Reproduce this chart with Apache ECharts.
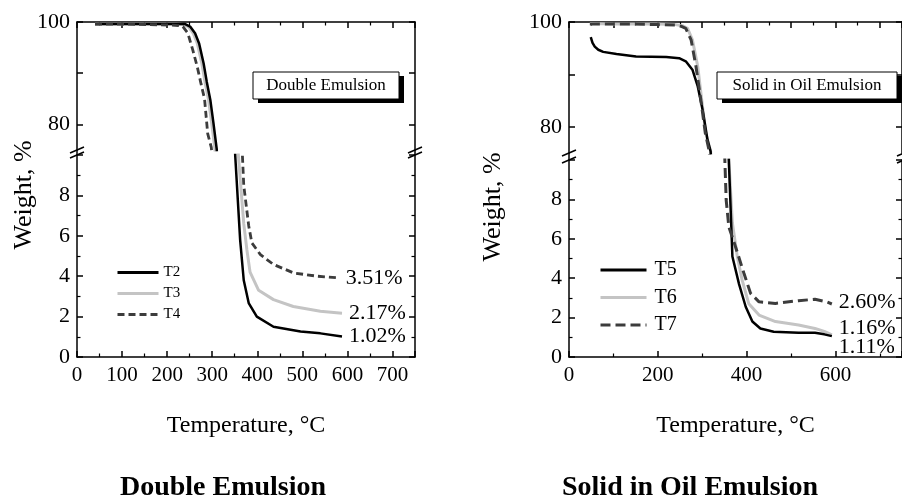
<!DOCTYPE html>
<html>
<head>
<meta charset="utf-8">
<script src="https://cdn.jsdelivr.net/npm/echarts@6/dist/echarts.min.js"></script>
<style>
  html, body { margin: 0; padding: 0; background: #fff; }
  #main { width: 902px; height: 499px; }
</style>
</head>
<body>
<div id="main"></div>
<script>
// ---- TGA curves: temperature (°C) and residual weight (%) ----
// Double emulsion samples
const t2Temp   = [40, 100, 160, 220, 240, 251, 262, 271, 281, 288, 296, 303, 310, 351, 362, 370, 381, 399, 436, 496, 540, 588];
const t2Weight = [99.6, 99.6, 99.6, 99.6, 99.6, 99.1, 97.8, 95.8, 91.9, 88.3, 84.7, 80.1, 75.2, 10.0, 5.8, 3.8, 2.67, 2.0, 1.5, 1.26, 1.17, 1.02];

const t3Temp   = [40, 100, 160, 220, 236, 247, 258, 267, 277, 284, 292, 299, 306, 358, 370, 377, 384, 403, 436, 480, 540, 588];
const t3Weight = [99.6, 99.6, 99.6, 99.6, 99.5, 99.1, 97.8, 95.8, 91.9, 88.3, 84.7, 80.1, 75.2, 10.0, 6.6, 5.3, 4.2, 3.3, 2.84, 2.5, 2.26, 2.17];

const t4Temp   = [40, 100, 160, 210, 225, 235, 246, 257, 267, 275, 283, 290, 298, 367, 370, 381, 388, 407, 436, 481, 533, 581];
const t4Weight = [99.6, 99.6, 99.5, 99.4, 99.3, 99.1, 97.8, 94.5, 91.2, 88.0, 85.0, 78.2, 75.5, 10.0, 8.5, 6.5, 5.65, 5.07, 4.58, 4.16, 4.0, 3.92];

// Solid in oil emulsion samples
const t5Temp   = [49, 53, 58, 66, 77, 107, 151, 219, 248, 263, 278, 290, 301, 312, 319, 360, 368, 383, 398, 413, 431, 461, 517, 554, 575, 592];
const t5Weight = [97.1, 96.0, 95.3, 94.7, 94.3, 93.9, 93.4, 93.3, 93.1, 92.5, 90.9, 87.7, 83.2, 77.5, 75.3, 10.0, 5.1, 3.7, 2.55, 1.8, 1.45, 1.28, 1.23, 1.23, 1.15, 1.06];

const t6Temp   = [47, 100, 150, 200, 240, 255, 267, 278, 290, 299, 308, 319, 360, 368, 379, 390, 405, 428, 465, 517, 554, 575, 592];
const t6Weight = [99.7, 99.6, 99.6, 99.6, 99.5, 99.3, 98.8, 96.6, 91.5, 85.1, 78.8, 75.3, 10.0, 6.8, 5.1, 3.9, 2.7, 2.13, 1.8, 1.62, 1.45, 1.3, 1.12];

const t7Temp   = [47, 100, 150, 200, 240, 252, 263, 275, 286, 297, 307, 316, 351, 354, 360, 375, 394, 409, 428, 465, 517, 554, 580, 592];
const t7Weight = [99.6, 99.6, 99.6, 99.5, 99.4, 99.2, 98.8, 96.6, 91.5, 85.1, 78.8, 75.3, 10.0, 7.97, 6.6, 5.6, 4.25, 3.23, 2.8, 2.72, 2.86, 2.93, 2.8, 2.69];

// Final residue annotations
const residueDouble = { T2: '1.02%', T3: '2.17%', T4: '3.51%' };
const residueSolid  = { T5: '1.11%', T6: '1.16%', T7: '2.60%' };

// Axis ranges and tick labels
const tempRange = [0, 750];
const upperWeightRange = [75, 100];
const lowerWeightRange = [0, 10];
const upperWeightLabels = [80, 100];
const upperWeightTicks = [80, 90, 100];

const panelTitles = ['Double Emulsion', 'Solid in Oil Emulsion'];
const boxLabels = ['Double Emulsion', 'Solid in Oil Emulsion'];

// ---- layout ----
const FONT = '"Liberation Serif", "Times New Roman", serif';
const grids = [
  { left: 77,  top: 22,  width: 338, height: 128 },  // upper, double emulsion
  { left: 77,  top: 155, width: 338, height: 202 },  // lower, double emulsion
  { left: 569, top: 22,  width: 335, height: 131 },  // upper, solid in oil
  { left: 569, top: 160, width: 335, height: 197 }   // lower, solid in oil
];

const axisLine = { show: true, onZero: false, lineStyle: { color: '#000', width: 1.5 } };
const tick = { show: true, inside: true, length: 6, lineStyle: { color: '#000', width: 1.5 } };
const minor = { show: true, splitNumber: 2, length: 3.5, lineStyle: { color: '#000', width: 1.2 } };

function xAxisFor(gridIndex, isUpper, interval) {
  return {
    type: 'value', gridIndex,
    min: tempRange[0], max: tempRange[1], interval,
    position: isUpper ? 'top' : 'bottom',
    axisLine, axisTick: tick, minorTick: minor,
    splitLine: { show: false },
    axisLabel: isUpper ? { show: false } : {
      show: true, color: '#000', fontFamily: FONT, fontSize: 21, margin: 8, showMaxLabel: false
    },
    name: isUpper ? '' : 'Temperature, °C',
    nameLocation: 'middle', nameGap: 57,
    nameTextStyle: { color: '#000', fontFamily: FONT, fontSize: 24 }
  };
}

function yAxesFor(gridIndex, isUpper) {
  const base = isUpper ? {
    min: upperWeightRange[0], max: upperWeightRange[1],
    axisTick: { ...tick, customValues: upperWeightTicks },
    minorTick: { show: false }
  } : {
    min: lowerWeightRange[0], max: lowerWeightRange[1], interval: 2,
    axisTick: tick, minorTick: minor
  };
  const labelOpt = {
    show: true, color: '#000', fontFamily: FONT, fontSize: 22, margin: 7,
    showMaxLabel: isUpper
  };
  if (isUpper) labelOpt.customValues = upperWeightLabels;
  const left = {
    type: 'value', gridIndex, position: 'left', ...base, axisLine,
    splitLine: { show: false }, axisLabel: labelOpt
  };
  const right = {
    type: 'value', gridIndex, position: 'right', ...base, axisLine,
    splitLine: { show: false }, axisLabel: { show: false }
  };
  return [left, right];
}

const xAxes = [
  xAxisFor(0, true, 100), xAxisFor(1, false, 100),
  xAxisFor(2, true, 100), xAxisFor(3, false, 200)
];
const yAxes = [].concat(yAxesFor(0, true), yAxesFor(1, false), yAxesFor(2, true), yAxesFor(3, false));

const styles = {
  T2: { color: '#000', width: 2.5, type: 'solid' },
  T3: { color: '#c4c4c4', width: 3, type: 'solid' },
  T4: { color: '#3c3c3c', width: 2.8, type: [7, 4] },
  T5: { color: '#000', width: 2.5, type: 'solid' },
  T6: { color: '#c4c4c4', width: 3, type: 'solid' },
  T7: { color: '#3c3c3c', width: 3, type: [10, 5] }
};
const labelOffsets = { T2: [0, 0], T3: [0, 0], T4: [0, 0], T5: [0, 11], T6: [0, -7], T7: [0, -2] };

function pairs(temps, weights) { return temps.map((t, i) => [t, weights[i]]); }

function curve(name, temps, weights, gridIndex, residue) {
  const s = {
    name, type: 'line', data: pairs(temps, weights),
    xAxisIndex: gridIndex, yAxisIndex: gridIndex * 2,
    showSymbol: false, symbol: 'none', clip: true, smooth: false,
    lineStyle: styles[name], itemStyle: { color: styles[name].color },
    emphasis: { disabled: true }
  };
  if (residue) {
    s.endLabel = {
      show: true, formatter: () => residue, distance: 7,
      offset: labelOffsets[name],
      color: '#000', fontFamily: FONT, fontSize: 22
    };
  }
  return s;
}

const series = [];
[['T3', t3Temp, t3Weight], ['T2', t2Temp, t2Weight], ['T4', t4Temp, t4Weight]].forEach(([n, t, w]) => {
  series.push(curve(n, t, w, 0, null));
  series.push(curve(n, t, w, 1, residueDouble[n]));
});
[['T6', t6Temp, t6Weight], ['T5', t5Temp, t5Weight], ['T7', t7Temp, t7Weight]].forEach(([n, t, w]) => {
  series.push(curve(n, t, w, 2, null));
  series.push(curve(n, t, w, 3, residueSolid[n]));
});

// legend entries: line sample only, no marker
function legendItems(names) {
  return names.map(n => ({ name: n, lineStyle: { width: 3 } }));
}

// ---- decorations: axis breaks, boxed labels, axis names, panel titles ----
const graphics = [];
function breakMarks(x, yUp, yLow) {
  graphics.push({ type: 'line', shape: { x1: x, y1: yUp, x2: x, y2: yLow }, style: { stroke: '#000', lineWidth: 1.5 }, z: 100 });
  [yUp, yLow].forEach(y => {
    graphics.push({ type: 'line', shape: { x1: x - 7, y1: y + 3, x2: x + 7, y2: y - 3 }, style: { stroke: '#000', lineWidth: 1.5 }, z: 100 });
  });
}
[[0, 1], [2, 3]].forEach(([u, l]) => {
  const gu = grids[u], gl = grids[l];
  const yUp = gu.top + gu.height, yLow = gl.top;
  breakMarks(gu.left, yUp, yLow);
  breakMarks(gu.left + gu.width, yUp, yLow);
});

function boxLabel(text, x, y, w, h) {
  graphics.push({ type: 'rect', shape: { x: x + 5, y: y + 4, width: w, height: h }, style: { fill: '#000' }, z: 101 });
  graphics.push({ type: 'rect', shape: { x, y, width: w, height: h }, style: { fill: '#fff', stroke: '#000', lineWidth: 1 }, z: 102 });
  graphics.push({ type: 'text', z: 103, style: {
    text, x: x + w / 2, y: y + h / 2, fill: '#000',
    font: '17px ' + FONT, align: 'center', verticalAlign: 'middle',
    textAlign: 'center', textVerticalAlign: 'middle'
  } });
}
boxLabel(boxLabels[0], 253, 72, 146, 27);
boxLabel(boxLabels[1], 717, 72, 180, 27);

function rotatedText(text, x, y, size) {
  graphics.push({ type: 'text', x, y, rotation: Math.PI / 2, z: 103, style: {
    text, x: 0, y: 0, fill: '#000', font: size + 'px ' + FONT,
    align: 'center', verticalAlign: 'middle', textAlign: 'center', textVerticalAlign: 'middle'
  } });
}
rotatedText('Weight, %', 24, 195, 26);
rotatedText('Weight, %', 493, 207, 26);

function titleText(text, x, y) {
  graphics.push({ type: 'text', z: 103, style: {
    text, x, y, fill: '#000', font: 'bold 28px ' + FONT,
    align: 'center', verticalAlign: 'middle', textAlign: 'center', textVerticalAlign: 'middle'
  } });
}
titleText(panelTitles[0], 223, 488);
titleText(panelTitles[1], 690, 488);

const chart = echarts.init(document.getElementById('main'), null, { renderer: 'canvas' });
chart.setOption({
  animation: false,
  backgroundColor: '#fff',
  grid: grids.map(g => ({ ...g, containLabel: false })),
  xAxis: xAxes,
  yAxis: yAxes,
  legend: [
    {
      data: legendItems(['T2', 'T3', 'T4']), orient: 'vertical', left: 116, top: 265,
      padding: 0, itemWidth: 41, itemHeight: 14, itemGap: 6, selectedMode: false,
      itemStyle: { opacity: 0 },
      textStyle: { color: '#000', fontFamily: FONT, fontSize: 15, lineHeight: 14 }
    },
    {
      data: legendItems(['T5', 'T6', 'T7']), orient: 'vertical', left: 599, top: 260,
      padding: 0, itemWidth: 46, itemHeight: 18, itemGap: 7.5, selectedMode: false,
      itemStyle: { opacity: 0 },
      textStyle: { color: '#000', fontFamily: FONT, fontSize: 20, lineHeight: 18, padding: [0, 0, 0, 3] }
    }
  ],
  series,
  graphic: graphics
});
</script>
</body>
</html>
